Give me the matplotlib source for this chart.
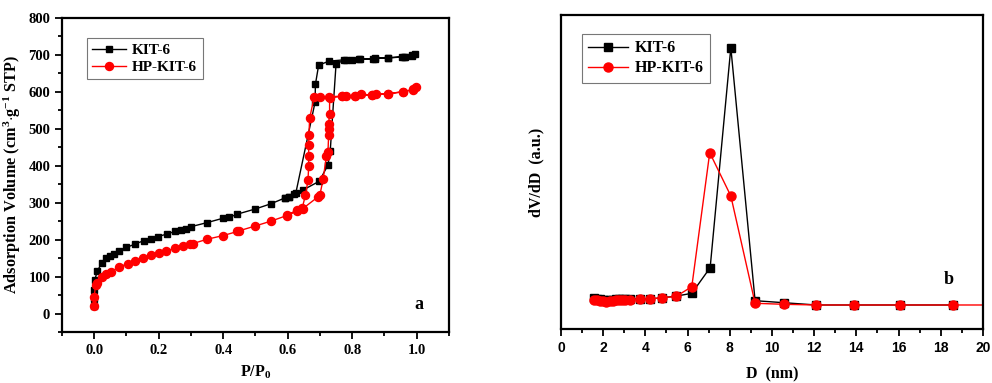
import matplotlib
matplotlib.use("Agg")
import matplotlib.pyplot as plt
from matplotlib.ticker import AutoMinorLocator, MultipleLocator

plt.rcParams['font.family'] = ['Liberation Serif', 'DejaVu Serif']
plt.rcParams['font.weight'] = 'bold'
plt.rcParams['mathtext.fontset'] = 'custom'
plt.rcParams['mathtext.rm'] = 'Liberation Serif:bold'
plt.rcParams['mathtext.bf'] = 'Liberation Serif:bold'
plt.rcParams['mathtext.it'] = 'Liberation Serif:italic:bold'

# (a) N2 isotherms: adsorption then desorption, P/P0 vs volume
kit_p = [0.0, 0.0, 0.0, 0.002, 0.01, 0.023, 0.038, 0.048, 0.06, 0.077, 0.1, 0.127,
         0.153, 0.175, 0.197, 0.225, 0.25, 0.27, 0.285, 0.30, 0.35, 0.40, 0.418,
         0.444, 0.50, 0.548, 0.592, 0.605, 0.62, 0.647, 0.698, 0.725, 0.732, 0.75,
         0.775, 0.80, 0.825, 0.865, 0.87, 0.91, 0.955, 0.965, 0.985, 0.995,
         0.985, 0.96, 0.91, 0.87, 0.82, 0.78, 0.728, 0.696, 0.686, 0.685, 0.625,
         0.605, 0.592]
kit_v = [20, 40, 63, 92, 116, 136, 149, 155, 161, 170, 179, 188,
         197, 203, 208, 215, 222, 226, 230, 235, 246, 258, 260,
         269, 283, 297, 313, 315, 323, 334, 358, 402, 440, 675,
         686, 686, 689, 689, 692, 692, 694, 695, 698, 703,
         700, 695, 692, 690, 689, 687, 683, 672, 620, 572, 325,
         315, 313]

hp_p = [0.0, 0.0, 0.004, 0.01, 0.023, 0.038, 0.052, 0.077, 0.104, 0.127, 0.15,
        0.177, 0.20, 0.224, 0.25, 0.274, 0.298, 0.305, 0.35, 0.40, 0.444, 0.45,
        0.50, 0.548, 0.597, 0.63, 0.647, 0.693, 0.70, 0.71, 0.72, 0.725, 0.727,
        0.727, 0.727, 0.73, 0.73, 0.77, 0.78, 0.81, 0.826, 0.86, 0.875, 0.91,
        0.958, 0.99, 0.998,
        0.99, 0.958, 0.91, 0.86, 0.81, 0.77, 0.728, 0.70, 0.682, 0.668, 0.666,
        0.665, 0.665, 0.665, 0.663, 0.655, 0.645, 0.63, 0.597]
hp_v = [20, 45, 77, 83, 99, 107, 113, 126, 135, 142, 151,
        158, 163, 170, 176, 182, 187, 189, 201, 211, 222, 224,
        237, 250, 265, 278, 284, 315, 321, 364, 425, 438, 483,
        500, 514, 541, 584, 588, 588, 590, 593, 592, 595, 595,
        600, 606, 613,
        607, 600, 595, 592, 590, 588, 587, 586, 585, 528, 482,
        457, 425, 398, 360, 320, 285, 280, 266]

# (b) pore size distribution, D (nm) vs dV/dD (a.u.)
kit_d = [1.55, 1.7, 1.85, 2.0, 2.15, 2.3, 2.45, 2.6, 2.75, 2.9, 3.05, 3.25, 3.73,
         4.2, 4.8, 5.45, 6.2, 7.07, 8.05, 9.2, 10.55, 12.1, 13.9, 16.05, 18.6]
kit_dv = [3.07, 3.02, 2.97, 2.9, 2.85, 2.88, 2.92, 2.95, 2.97, 3.0, 3.0, 3.0, 3.0,
          3.0, 3.13, 3.28, 3.57, 6.13, 28.13, 2.83, 2.63, 2.4, 2.4, 2.4, 2.4]
hp_d = [1.55, 1.7, 1.85, 2.0, 2.15, 2.3, 2.45, 2.6, 2.75, 2.9, 3.05, 3.25, 3.73,
        4.2, 4.8, 5.45, 6.2, 7.05, 8.05, 9.2, 10.55, 12.1, 13.9, 16.05, 18.6, 21.5]
hp_dv = [2.9, 2.87, 2.83, 2.77, 2.73, 2.77, 2.82, 2.85, 2.88, 2.9, 2.92, 2.93, 2.97,
         3.0, 3.13, 3.25, 4.23, 17.63, 13.3, 2.57, 2.47, 2.4, 2.4, 2.4, 2.4, 2.4]

fig = plt.figure(figsize=(9.92, 3.83), dpi=100)
ax1 = fig.add_axes([0.0625, 0.1332, 0.390, 0.820])
ax2 = fig.add_axes([0.5655, 0.141, 0.4254, 0.820])

for ax in (ax1, ax2):
    for s in ax.spines.values():
        s.set_linewidth(1.6)
    ax.tick_params(which='both', direction='out', width=1.3, top=False, right=False)
    ax.tick_params(which='major', length=5)
    ax.tick_params(which='minor', length=3)

ax1.plot(kit_p, kit_v, color='black', lw=1, marker='s', ms=4.8, label='KIT-6')
ax1.plot(hp_p, hp_v, color='red', lw=1, marker='o', ms=5.8, label='HP-KIT-6')
ax1.set_xlim(-0.1, 1.1)
ax1.set_ylim(-50, 800)
ax1.xaxis.set_major_locator(MultipleLocator(0.2))
ax1.xaxis.set_minor_locator(AutoMinorLocator(2))
ax1.yaxis.set_major_locator(MultipleLocator(100))
ax1.yaxis.set_minor_locator(AutoMinorLocator(2))
ax1.tick_params(labelsize=10.5)
ax1.set_xlabel('P/P$_0$', fontsize=11.5, fontweight='bold', labelpad=5)
ax1.set_ylabel('Adsorption Volume (cm$^3$$\\cdot$g$^{-1}$ STP)', fontsize=11.7,
               fontweight='bold', labelpad=4)
ax1.text(1.006, 24, 'a', fontsize=13, fontweight='bold', ha='center', va='center')
leg1 = ax1.legend(loc='upper left', bbox_to_anchor=(0.045, 0.96), fontsize=11,
                  frameon=True, fancybox=False, edgecolor='#555555',
                  handlelength=2.2, handletextpad=0.4, borderpad=0.35,
                  labelspacing=0.2)
leg1.get_frame().set_linewidth(0.8)

ax2.plot(kit_d, kit_dv, color='black', lw=1, marker='s', ms=5.5, label='KIT-6')
ax2.plot(hp_d, hp_dv, color='red', lw=1, marker='o', ms=6.5, label='HP-KIT-6')
ax2.set_xlim(0, 20)
ax2.set_ylim(0, 31.4)
ax2.xaxis.set_major_locator(MultipleLocator(2))
ax2.xaxis.set_minor_locator(AutoMinorLocator(2))
ax2.set_yticks([])
ax2.tick_params(axis='x', labelsize=10, labelfontfamily='Liberation Sans')
ax2.set_xlabel('D  (nm)', fontsize=11.5, fontweight='bold', labelpad=8)
ax2.set_ylabel('dV/dD  (a.u.)', fontsize=11.5, fontweight='bold', labelpad=12)
ax2.text(18.4, 4.9, 'b', fontsize=13, fontweight='bold', ha='center', va='center')
leg2 = ax2.legend(loc='upper left', bbox_to_anchor=(0.03, 0.965), fontsize=11.5,
                  frameon=True, fancybox=False, edgecolor='#555555',
                  handlelength=2.5, handletextpad=0.4, borderpad=0.4,
                  labelspacing=0.25)
leg2.get_frame().set_linewidth(0.8)

fig.savefig('out.png', dpi=100)
